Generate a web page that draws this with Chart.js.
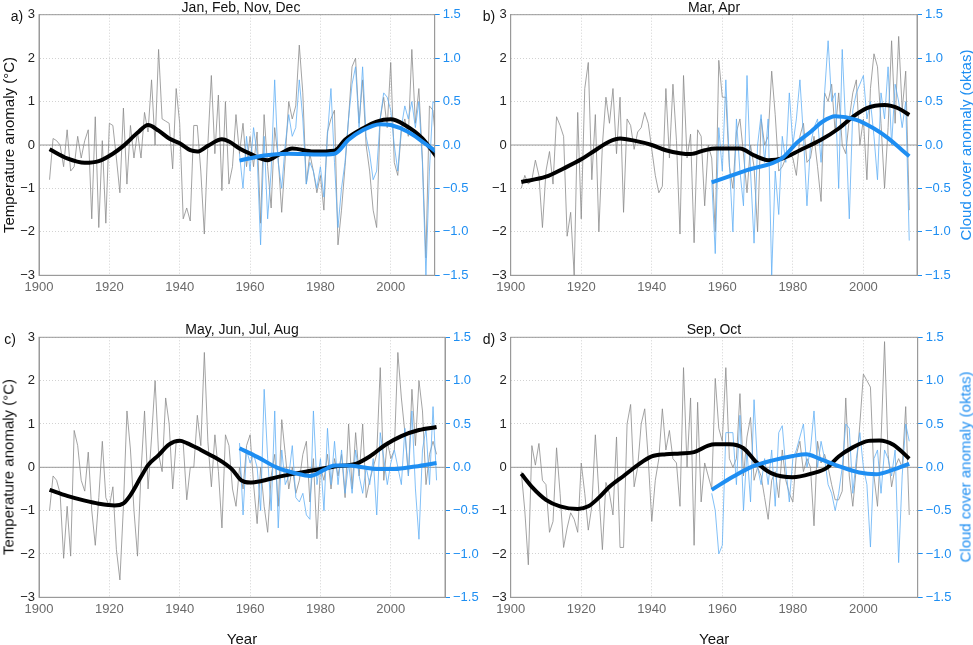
<!DOCTYPE html>
<html>
<head>
<meta charset="utf-8">
<script src="https://cdn.jsdelivr.net/npm/chart.js@4.4.1/dist/chart.umd.min.js"></script>
<style>
  body { margin: 0; background: #fff; width: 973px; height: 645px; position: relative; overflow: hidden;
         font-family: "Liberation Sans", Arial, Helvetica, sans-serif; }
  canvas { position: absolute; left: 0; top: 0; }
  .t { position: absolute; white-space: nowrap; color: #111; transform: translate(-50%, -50%); }
  .rot { transform: translate(-50%, -50%) rotate(-90deg); }
</style>
</head>
<body>
<script>
// ---- data ----
const tempStart = 1903;   // first year of the temperature series
const cloudStart = 1957;  // first year of the cloud series
const xTicks = [1900, 1920, 1940, 1960, 1980, 2000];
const tempTicks = [-3, -2, -1, 0, 1, 2, 3];
const cloudTicks = [-1.5, -1, -0.5, 0, 0.5, 1, 1.5];

// a) Jan, Feb, Nov, Dec
const tempA = [
  -0.8, 0.15, 0.1, 0.0, -0.5, 0.35, -0.6,
  -0.5, 0.2, -0.3, 0.1, 0.35, -1.7, 0.65, -1.9, 0.1, -1.8,
  0.5, 0.45, -0.3, -1.1, 0.85, -0.9, 0.45, -0.3, 0.3, -0.3,
  0.75, 0.3, 1.5, 0.0, 2.2, 0.6, 0.55, 0.5, -0.55, 1.3,
  0.5, -1.7, -1.45, -1.75, 0.45, 0.45, -0.6, -2.05, 0.0, 1.6,
  -0.2, 1.15, -1.05, 1.0, -0.9, -0.5, 0.7, -0.2, 0.5, -0.5,
  0.2, -0.5, 0.3, -1.8, 0.7, -0.5, -1.45, 0.4, -0.3, -1.55,
  -0.3, 1.0, 0.6, 0.9, 2.3, 1.2, -0.9, -0.2, -0.6, -1.1,
  -0.7, -1.5, 0.3, 0.6, 0.8, -2.3, -1.5, -0.5, 0.6, 1.8,
  2.0, 0.5, 1.5, 0.0, -0.6, -1.5, -1.9, 0.6, 1.1, 0.4,
  1.9, -0.4, -0.7, 0.3, 0.6, 0.2, 2.2, 0.5, 1.3, -0.3,
  -2.6, 0.9, 0.8, -0.1
];
const cloudA = [
  -0.1, -0.5, 0.1,
  -0.3, 0.2, -0.1, -1.15, 0.1, -0.85, -0.3, 0.75, -0.2, -0.5,
  0.0, 0.35, 0.1, 0.2, 0.75, 0.3, -0.45, -0.2, -0.3, -0.5,
  -0.25, -0.6, 0.1, 0.65, -0.2, -0.95, -0.5, -0.2, 0.3, 0.7,
  0.9, 0.2, 0.9, 0.1, -0.1, -0.4, -0.3, 0.3, 0.6, 0.55,
  0.4, 0.0, -0.3, 0.2, 0.45, 0.3, 0.5, 0.2, 0.5, -0.2,
  -1.5, -0.3, 0.5, 0.45
];
const smoothTempYearsA = [1903, 1908, 1913, 1917, 1921, 1924, 1928, 1931, 1934, 1937, 1940, 1943, 1945, 1948, 1952,
  1954, 1957, 1960, 1965, 1968, 1972, 1978, 1984, 1987, 1992, 1996, 2000, 2004, 2009, 2013];
const smoothTempA = [-0.1, -0.31, -0.41, -0.37, -0.2, -0.02, 0.28, 0.46, 0.33, 0.15, 0.04, -0.12, -0.15, -0.02, 0.13,
  0.08, -0.08, -0.2, -0.35, -0.23, -0.08, -0.15, -0.13, 0.12, 0.38, 0.54, 0.59, 0.46, 0.15, -0.27];
const smoothCloudYearsA = [1957, 1964, 1971, 1979, 1984, 1988, 1992, 1997, 2000, 2005, 2009, 2013];
const smoothCloudA = [-0.18, -0.12, -0.1, -0.11, -0.1, 0.06, 0.17, 0.24, 0.23, 0.15, 0.04, -0.08];

// b) Mar, Apr
const tempB = [
  -1.0, -0.7, -0.9, -0.8, -0.35, -0.7, -1.9,
  -0.6, -0.15, -0.9, 0.65, 0.45, 0.2, -2.1, -1.55, -3.0, 0.75,
  -1.7, 1.3, 1.9, -0.8, 0.7, -2.0, 0.0, 1.1, 0.5, 1.3,
  -0.2, 1.1, -1.55, 0.6, 0.45, -0.1, 0.3, 0.4, 0.75, 0.5,
  -0.1, -0.7, -1.1, -0.95, 1.3, -0.3, 1.4, 0.1, -2.05, 1.6,
  -0.3, 0.25, -2.25, 0.35, 0.2, -1.4, 0.0, -0.3, -2.0, 1.95,
  1.1, 1.1, -0.5, -1.0, 0.3, 0.6, -0.2, -1.1, 0.0, -0.5,
  -2.0, 0.6, 0.0, 0.2, 1.7, 0.7, -0.6, -0.5, -0.3, -0.2,
  -0.3, -0.7, 0.2, 0.5, -0.4, -0.3, 0.2, -0.5, -1.3, 1.2,
  1.0, 1.4, 0.3, 1.2, 0.0, -0.2, 0.6, 1.2, 1.5, 0.0,
  0.6, -0.8, 1.3, 2.1, 1.8, 0.5, -1.0, 0.4, 2.4, 0.5,
  2.5, 0.8, 1.7, -1.5
];
const cloudB = [
  -0.4, -1.25, 0.2,
  -0.3, 0.75, -0.2, -1.0, 0.3, -0.3, -0.7, 0.8, -0.3, -1.13,
  0.0, 0.35, -0.2, 0.3, -1.5, -0.3, -0.8, 0.1, -0.2, 0.6,
  0.0, 0.3, 0.75, 0.1, -0.7, 0.0, 0.2, 0.3, -0.2, 0.6,
  1.2, 0.5, 0.6, -0.5, 1.1, 0.2, -0.85, 0.4, 0.6, 0.7,
  0.8, 0.3, 0.5, 0.1, -0.4, 0.6, 0.3, 0.9, 0.0, 0.7,
  0.5, 0.2, 0.5, -1.1
];
const smoothTempYearsB = [1903, 1910, 1915, 1920, 1924, 1928, 1931, 1935, 1940, 1944, 1948, 1951, 1955, 1958, 1965,
  1969, 1973, 1977, 1982, 1988, 1993, 1997, 2001, 2006, 2010, 2013];
const smoothTempB = [-0.85, -0.73, -0.54, -0.33, -0.12, 0.08, 0.15, 0.1, 0.0, -0.12, -0.19, -0.21, -0.12, -0.08, -0.08,
  -0.24, -0.35, -0.31, -0.12, 0.12, 0.38, 0.65, 0.85, 0.92, 0.84, 0.69];
const smoothCloudYearsB = [1957, 1967, 1977, 1981, 1985, 1988.5, 1992, 1998, 2003, 2007, 2011, 2013];
const smoothCloudB = [-0.43, -0.29, -0.15, 0.02, 0.15, 0.27, 0.33, 0.29, 0.19, 0.08, -0.06, -0.13];

// c) May, Jun, Jul, Aug
const tempC = [
  -1.0, -0.2, -0.3, -0.6, -2.1, -0.9, -2.05,
  0.85, 0.5, -0.3, -0.55, 0.35, -1.0, -1.8, -0.7, 0.6, -0.7,
  -0.9, -0.45, -1.9, -2.6, -0.9, 1.3, 0.4, -1.0, -2.05, -0.1,
  1.3, -0.5, 0.7, 2.0, 0.3, -0.1, 1.6, 1.0, -0.5, 0.6,
  0.65, 0.55, -0.75, 0.0, 0.0, 1.2, 0.5, 2.65, 0.6, -0.45,
  0.75, -0.1, -1.4, 0.75, 0.5, -0.5, -0.9, 0.0, -0.5, 0.5,
  0.75, -0.4, -1.3, 0.0, -0.9, -1.5, -0.2, 0.3, -0.9, 1.1,
  0.3, -0.5, 0.0, -0.6, -0.3, 0.3, 0.6, -0.8, 0.2, -1.65,
  0.0, -0.3, 0.3, -0.5, 0.2, -0.2, 0.3, -0.7, 1.0, -0.5,
  0.8, -0.2, 1.0, -0.7, -0.3, 0.0, 0.3, 2.3, -0.3, 0.6,
  0.2, 0.4, 2.65, 1.6, 0.8, -0.2, 1.8, 0.5, 2.0, 1.3,
  -0.4, 0.3, 0.6, 0.3
];
const cloudC = [
  0.28, -0.55, 0.2,
  0.05, 0.15, 0.0, -0.5, 0.9, 0.1, -0.5, 0.65, -0.7, 0.2,
  -0.2, -0.1, 0.25, -0.35, -0.4, -0.3, -0.55, -0.6, 0.65, -0.2,
  0.1, -0.5, 0.45, -0.2, 0.3, -0.2, 0.2, -0.3, 0.05, -0.3,
  0.2, -0.1, -0.3, 0.0, -0.2, 0.1, -0.55, 0.4, 0.1, -0.2,
  0.05, 0.2, 0.0, -0.2, 0.45, -0.1, 0.65, -0.25, -0.83, 0.2,
  0.45, -0.2, 0.7, -0.15
];
const smoothTempYearsC = [1903, 1908, 1913, 1917, 1921.5, 1924, 1926, 1929, 1931, 1934, 1937, 1940, 1942, 1946,
  1949.5, 1952, 1955, 1957.5, 1960, 1963, 1968, 1973, 1978, 1984, 1990, 1994, 1998.5, 2003, 2008, 2013];
const smoothTempC = [-0.52, -0.66, -0.77, -0.84, -0.88, -0.83, -0.64, -0.22, 0.05, 0.28, 0.53, 0.61, 0.56, 0.4,
  0.25, 0.13, -0.06, -0.3, -0.35, -0.32, -0.22, -0.14, -0.07, 0.02, 0.08, 0.25, 0.52, 0.72, 0.86, 0.93];
const smoothCloudYearsC = [1957, 1962, 1968, 1973, 1977, 1981, 1984, 1988, 1992, 1996, 2001, 2007, 2013];
const smoothCloudC = [0.22, 0.12, -0.01, -0.07, -0.1, -0.03, 0.02, 0.02, 0.0, -0.02, -0.02, 0.01, 0.05];

// d) Sep, Oct
const tempD = [
  -0.1, -1.0, -2.25, 0.5, 0.05, 0.55, -0.3,
  -0.4, -1.5, -1.25, 0.45, -0.6, -1.85, -1.4, -1.05, -1.2, -1.5,
  0.1, -0.6, -1.45, -0.9, 0.75, -0.6, -1.9, -0.35, -0.6, -1.1,
  0.7, -1.85, -1.85, 1.0, 1.45, -0.45, 0.0, 1.0, 1.35, 0.2,
  -1.25, -0.3, 0.2, 1.35, 0.4, 0.85, 0.2, 0.1, -0.9, 2.3,
  0.0, 1.6, -1.8, 1.5, -0.8, 0.1, -0.2, -0.5, 2.05, 0.9,
  0.6, 2.3, 0.2, 0.0, 0.2, 1.7, -0.2, 0.7, 1.15, -0.3,
  0.0, -0.2, -0.7, -1.2, -0.3, -0.1, -0.7, 0.4, -0.3, -0.6,
  -0.8, 0.3, 0.6, -0.1, 0.2, 0.0, -1.35, 0.6, 0.1, 0.3,
  0.0, -0.4, -0.75, -0.75, -0.55, 1.6, -0.2, -0.9, 0.0, 1.0,
  2.15, 2.0, 1.85, -0.2, -0.9, 0.6, 2.9, 0.3, -0.45, 0.0,
  0.2, 0.0, 1.4, -1.1
];
const cloudD = [
  -0.3, -0.5, -1.0,
  -0.9, 0.4, 0.4, 0.4, -0.2, 0.6, -0.5, 0.2, -0.4, 0.78,
  0.0, -0.2, 0.1, -0.2, 0.2, -0.45, 0.4, 0.48, 0.0, -0.4,
  0.1, 0.2, 0.35, 0.5, 0.0, 0.2, 0.65, 0.0, 0.3, 0.1,
  -0.2, -0.3, -0.5, -0.3, 0.0, 0.5, 0.45, -0.3, 0.1, 0.4,
  0.0, -0.2, -0.92, 0.1, 0.2, -0.3, 0.2, 0.1, -0.1, 0.2,
  -1.1, -0.1, 0.5, 0.3
];
const smoothTempYearsD = [1903, 1906, 1910, 1914, 1919, 1922, 1925, 1928, 1932, 1936, 1940, 1944, 1948, 1952,
  1956, 1958, 1962, 1966, 1969.5, 1974, 1980, 1985.5, 1989.5, 1993, 1997, 2001.5, 2004.5, 2008.5, 2013];
const smoothTempD = [-0.15, -0.45, -0.75, -0.9, -0.96, -0.9, -0.7, -0.45, -0.2, 0.05, 0.25, 0.3, 0.32, 0.35,
  0.5, 0.53, 0.53, 0.44, 0.13, -0.14, -0.23, -0.14, -0.02, 0.25, 0.46, 0.61, 0.62, 0.52, 0.2];
const smoothCloudYearsD = [1957, 1963, 1968.6, 1974.3, 1980, 1983.8, 1987.5, 1993.2, 1998.8, 2003.6, 2008.3, 2013];
const smoothCloudD = [-0.26, -0.11, 0.01, 0.08, 0.13, 0.15, 0.1, 0.01, -0.06, -0.08, -0.03, 0.04];

// ---- layout / style ----
const W = 973, H = 645;
const LW = 36, RW = 40, BH = 24;
const GRAY = '#8c8c8c', THIN_BLUE = '#62b0f5', BLUE = '#1e8ef2', AXIS = '#9a9a9a';

const panels = [
  { title: 'Jan, Feb, Nov, Dec', tag: 'a)', temp: tempA, cloud: cloudA,
    kx: smoothTempYearsA, ky: smoothTempA, bx: smoothCloudYearsA, by: smoothCloudA,
    l: 39, t: 14.7, r: 434.7, b: 275.3, xMax: 2012.5, titleX: 241, tagX: 17, leftTitle: true, rightTitle: false },
  { title: 'Mar, Apr', tag: 'b)', temp: tempB, cloud: cloudB,
    kx: smoothTempYearsB, ky: smoothTempB, bx: smoothCloudYearsB, by: smoothCloudB,
    l: 510.7, t: 14.7, r: 917, b: 275.3, xMax: 2015.2, titleX: 714, tagX: 489, leftTitle: false, rightTitle: true },
  { title: 'May, Jun, Jul, Aug', tag: 'c)', temp: tempC, cloud: cloudC,
    kx: smoothTempYearsC, ky: smoothTempC, bx: smoothCloudYearsC, by: smoothCloudC,
    l: 39, t: 337.3, r: 445, b: 597.3, xMax: 2015.4, titleX: 242, tagX: 10, leftTitle: true, rightTitle: false },
  { title: 'Sep, Oct', tag: 'd)', temp: tempD, cloud: cloudD,
    kx: smoothTempYearsD, ky: smoothTempD, bx: smoothCloudYearsD, by: smoothCloudD,
    l: 510.7, t: 337.3, r: 917.7, b: 597.3, xMax: 2015.4, titleX: 714, tagX: 489, leftTitle: false, rightTitle: true }
];

Chart.defaults.font.family = '"Liberation Sans", Arial, Helvetica, sans-serif';
Chart.defaults.font.size = 13;

const minus = v => String(v).replace('-', '\u2212');

function annual(start, vals) { return vals.map((v, i) => ({ x: start + i, y: v })); }
function pairs(xs, ys) { return xs.map((x, i) => ({ x: x, y: ys[i] })); }

function text(str, x, y, extra) {
  const d = document.createElement('div');
  d.className = 't' + (extra && extra.rot ? ' rot' : '');
  d.textContent = str;
  d.style.left = x + 'px';
  d.style.top = y + 'px';
  d.style.fontSize = (extra && extra.size ? extra.size : 14) + 'px';
  if (extra && extra.color) d.style.color = extra.color;
  document.body.appendChild(d);
}

// frame + zero line
const framePlugin = {
  id: 'frame',
  beforeDatasetsDraw(chart) {
    const { ctx, chartArea: a, scales } = chart;
    const y0 = scales.y.getPixelForValue(0);
    ctx.save();
    ctx.strokeStyle = AXIS;
    ctx.lineWidth = 1;
    ctx.beginPath();
    ctx.moveTo(a.left, y0);
    ctx.lineTo(a.right, y0);
    ctx.stroke();
    ctx.strokeRect(a.left, a.top, a.right - a.left, a.bottom - a.top);
    ctx.restore();
  }
};

panels.forEach(p => {
  const cv = document.createElement('canvas');
  cv.width = W; cv.height = H;
  document.body.appendChild(cv);

  new Chart(cv, {
    type: 'line',
    data: {
      datasets: [
        { data: pairs(p.bx, p.by), yAxisID: 'y1', borderColor: BLUE, borderWidth: 4,
          cubicInterpolationMode: 'monotone', pointRadius: 0, borderCapStyle: 'butt' },
        { data: pairs(p.kx, p.ky), yAxisID: 'y', borderColor: '#000', borderWidth: 4,
          cubicInterpolationMode: 'monotone', pointRadius: 0, borderCapStyle: 'butt' },
        { data: annual(cloudStart, p.cloud), yAxisID: 'y1', borderColor: THIN_BLUE, borderWidth: 0.8,
          pointRadius: 0, tension: 0 },
        { data: annual(tempStart, p.temp), yAxisID: 'y', borderColor: GRAY, borderWidth: 0.8,
          pointRadius: 0, tension: 0 }
      ]
    },
    options: {
      responsive: false,
      animation: false,
      events: [],
      layout: { padding: { left: p.l - LW, right: W - p.r - RW, top: p.t, bottom: H - p.b - BH } },
      plugins: { legend: { display: false }, tooltip: { enabled: false } },
      scales: {
        x: {
          type: 'linear', min: 1900, max: p.xMax,
          afterBuildTicks: s => { s.ticks = xTicks.map(v => ({ value: v })); },
          afterFit: s => { s.height = BH; },
          grid: { color: '#d2d2d2', drawTicks: false },
          border: { color: AXIS, dash: [1, 2] },
          ticks: { color: '#6a6a6a', padding: 4, autoSkip: false, maxRotation: 0, callback: v => String(v) }
        },
        y: {
          position: 'left', min: -3, max: 3,
          afterBuildTicks: s => { s.ticks = tempTicks.map(v => ({ value: v })); },
          afterFit: s => { s.width = LW; },
          grid: { color: '#d2d2d2', drawTicks: false },
          border: { color: AXIS, dash: [1, 2] },
          ticks: { color: '#222', padding: 4, callback: v => minus(v) }
        },
        y1: {
          position: 'right', min: -1.5, max: 1.5,
          afterBuildTicks: s => { s.ticks = cloudTicks.map(v => ({ value: v })); },
          afterFit: s => { s.width = RW; },
          grid: { drawOnChartArea: false, drawTicks: true, tickLength: 5, tickColor: BLUE },
          border: { color: AXIS },
          ticks: { color: BLUE, padding: 3, callback: v => minus(Number(v).toFixed(1)) }
        }
      }
    },
    plugins: [framePlugin]
  });

  // texts
  text(p.title, p.titleX, p.t - 8, { size: 14 });
  text(p.tag, p.tagX, p.t + 1.5, { size: 14 });
  const midY = (p.t + p.b) / 2;
  if (p.leftTitle) text('Temperature anomaly (\u00B0C)', 8, midY, { rot: true, size: 15 });
  if (p.rightTitle) text('Cloud cover anomaly (oktas)', 965, midY, { rot: true, size: 15, color: BLUE });
  if (p.t > 100) text('Year', (p.l + p.r) / 2, 638, { size: 15 });
});
</script>
</body>
</html>
